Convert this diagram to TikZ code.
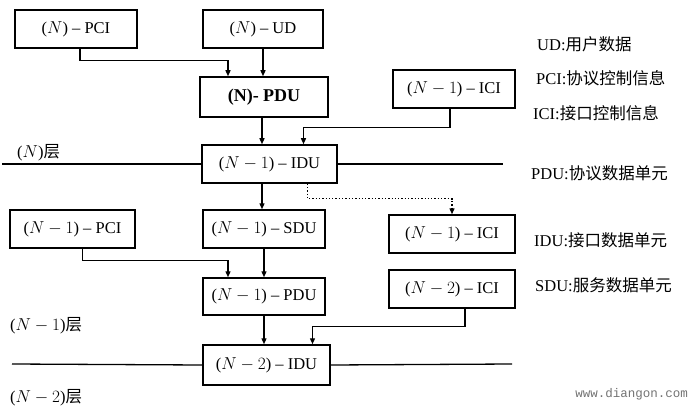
\documentclass[tikz,border=0pt]{standalone}
\usepackage{fontspec}
\setmainfont{Liberation Serif}
\newfontfamily\cjk{Noto Sans CJK SC}
\newfontfamily\wm{Liberation Mono}
\usetikzlibrary{arrows.meta}
\begin{document}
\begin{tikzpicture}[x=1pt,y=-1pt,
  box/.style={draw,line width=1.5pt,minimum height=38pt,inner sep=0pt,font=\fontsize{16.5}{16.5}\selectfont},
  arr/.style={line width=1.3pt,-{Triangle[length=6pt,width=5pt]}},
  lay/.style={line width=1.3pt},
  leg/.style={anchor=west,inner sep=0pt,font=\fontsize{16.5}{16.5}\selectfont}]
\useasboundingbox (0,0) rectangle (690,406);
\node[box,minimum width=122pt] (pci) at (76,29) {($N$) -- PCI};
\node[box,minimum width=120pt] (ud) at (263,29) {($N$) -- UD};
\node[box,minimum width=128pt,minimum height=40pt,font=\fontsize{18}{18}\selectfont\bfseries] (pdu) at (264,97) {(N)- PDU};
\node[box,minimum width=122pt] (ici1) at (454,89) {($N-1$) -- ICI};
\node[box,minimum width=135pt] (idu1) at (269.5,164) {($N-1$) -- IDU};
\node[box,minimum width=122pt] (sdu) at (264,229) {($N-1$) -- SDU};
\node[box,minimum width=125pt] (pci1) at (72.5,229) {($N-1$) -- PCI};
\node[box,minimum width=126pt] (ici2) at (452,234) {($N-1$) -- ICI};
\node[box,minimum width=122pt,minimum height=37pt] (pdu1) at (264,296.5) {($N-1$) -- PDU};
\node[box,minimum width=126pt] (ici3) at (452,289) {($N-2$) -- ICI};
\node[box,minimum width=127pt,minimum height=40pt] (idu2) at (266.5,365) {($N-2$) -- IDU};
% connectors
\draw[arr] ([xshift=4pt]pci.south) -- ++(0,12) -| ([xshift=-36pt]pdu.north);
\draw[arr] (ud.south) -- (ud.south |- pdu.north);
\draw[arr] ([xshift=-2pt]pdu.south) -- ([xshift=-2pt]pdu.south |- idu1.north);
\draw[arr] ([xshift=-4pt]ici1.south) -- ++(0,19) -| ([xshift=34pt]idu1.north);
\draw[arr] ([xshift=-7.5pt]idu1.south) -- ([xshift=-7.5pt]idu1.south |- sdu.north);
\draw[arr,dotted] ([xshift=38pt]idu1.south) -- ++(0,15) -| (ici2.north);
\draw[arr] ([xshift=10pt]pci1.south) -- ++(0,12) -| ([xshift=-36pt]pdu1.north);
\draw[arr] (sdu.south) -- (sdu.south |- pdu1.north);
\draw[arr] (pdu1.south) -- (pdu1.south |- idu2.north);
\draw[arr] ([xshift=13pt]ici3.south) -- ++(0,18) -| ([xshift=46pt]idu2.north);
% layer lines
\coordinate (l1a) at (2,164);
\coordinate (l1b) at (503,164);
\coordinate (l2a) at (12,364);
\coordinate (l2b) at (512,364);
\draw[lay] (l1a) -- (idu1.west);
\draw[lay] (idu1.east) -- (l1b);
\draw[lay] (l2a) -- (idu2.west);
\draw[lay] (idu2.east) -- (l2b);
% layer labels
\node[leg] (ln) at (17,153) {($N$){\cjk 层}};
\node[leg] (ln1) at (10,326) {($N-1$){\cjk 层}};
\node[leg] (ln2) at (10,398) {($N-2$){\cjk 层}};
% legend
\node[leg] (g1) at (537,44) {UD:{\cjk 用户数据}};
\node[leg] (g2) at (536,78) {PCI:{\cjk 协议控制信息}};
\node[leg] (g3) at (533,113) {ICI:{\cjk 接口控制信息}};
\node[leg] (g4) at (531,173) {PDU:{\cjk 协议数据单元}};
\node[leg] (g5) at (534,240) {IDU:{\cjk 接口数据单元}};
\node[leg] (g6) at (535,285) {SDU:{\cjk 服务数据单元}};
\node[anchor=east,inner sep=0pt,text=black!55,font=\wm\fontsize{12.5}{12.5}\selectfont] (wm) at (688,394) {www.diangon.com};
\end{tikzpicture}
\end{document}
